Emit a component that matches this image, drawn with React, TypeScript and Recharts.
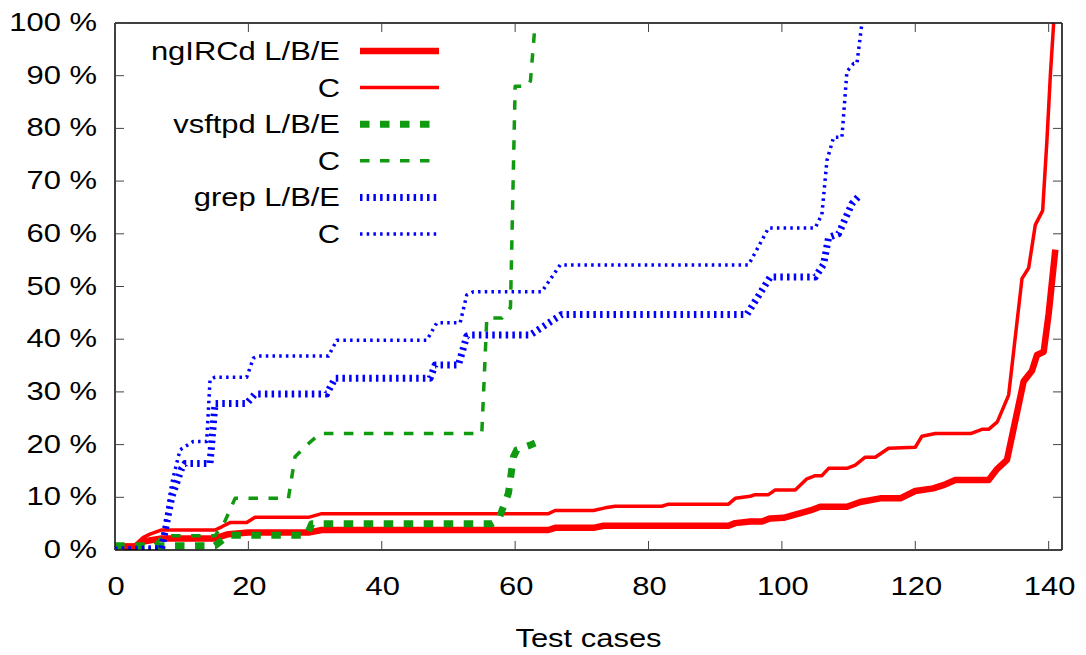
import { LineChart, Line, XAxis, YAxis, ReferenceLine } from 'recharts'

// test case count (x) vs. cumulative percentage (y)
const X_TICKS = [0, 20, 40, 60, 80, 100, 120, 140]
const Y_TICKS = [0, 10, 20, 30, 40, 50, 60, 70, 80, 90, 100]

const ngircdLbe: [number, number][] = [
  [0, 0.6], [3, 0.6], [4.25, 1.6], [7, 2.2], [15, 2.2], [17, 3.0], [20, 3.3], [29, 3.3],
  [31, 3.8], [65, 3.8], [66, 4.2], [71.75, 4.2], [73.25, 4.6], [92, 4.6], [93, 5.1],
  [95.25, 5.4], [97, 5.4], [98.25, 6.0], [100.25, 6.1], [102.25, 6.8], [104.25, 7.5],
  [105.75, 8.2], [109.75, 8.2], [111.75, 9.1], [114.75, 9.8], [117.75, 9.8], [120, 11.2],
  [122.7, 11.7], [124.2, 12.3], [126, 13.3], [131, 13.3], [132.3, 15.4], [133.75, 17.1],
  [136.25, 32], [137.5, 34], [138.25, 37], [139.25, 37.6], [140, 44.8], [141, 57],
]

const ngircdC: [number, number][] = [
  [0, 0.95], [3, 0.95], [4.25, 2.4], [5.25, 3], [7, 3.8], [15, 3.8], [16, 4.4], [17.25, 5.2],
  [19.75, 5.2], [21, 6.2], [29, 6.2], [31, 6.9], [65, 6.9], [66, 7.5], [71.75, 7.5],
  [73.5, 8.0], [75, 8.3], [82, 8.3], [83, 8.7], [92, 8.7], [93, 9.8], [95.25, 10.2],
  [96, 10.5], [98, 10.5], [99, 11.4], [102, 11.4], [103.75, 13.5], [105, 14.1], [106, 14.1],
  [107, 15.5], [109.75, 15.5], [111, 16.1], [112.5, 17.6], [114, 17.6], [116, 19.3],
  [120, 19.5], [121, 21.6], [123, 22.1], [128.3, 22.1], [130, 22.9], [131, 22.9],
  [132.3, 24.3], [134, 29.4], [136, 51.5], [137, 53.5], [138, 61.7], [139.1, 64.4],
  [139.75, 77.9], [140.25, 90], [140.75, 100],
]

const vsftpdLbe: [number, number][] = [
  [0, 0.8], [15, 0.8], [17, 2.8], [28.75, 2.8], [29.5, 5], [56.5, 5], [57.5, 5.7],
  [59, 10.8], [59.75, 17.7], [60.25, 19], [62.25, 19.9], [63, 20.3],
]

const vsftpdC: [number, number][] = [
  [0, 0.9], [6, 1], [7.25, 2.7], [15, 2.7], [16.5, 5.5], [18, 9.8], [26, 9.8], [27, 17.7],
  [28.75, 19.9], [30.75, 22.1], [55, 22.1], [55.75, 44], [58, 44], [59.3, 46], [60, 88],
  [61.8, 88], [62.3, 89], [63, 100],
]

const grepLbe: [number, number][] = [
  [0, 0], [7, 0.3], [8.5, 10], [10, 15.5], [10.5, 16.4], [14.25, 16.4], [15, 27.8],
  [19.75, 27.8], [21, 29.6], [31.75, 29.6], [33, 32.6], [47.25, 32.6], [48, 35.1],
  [51.5, 35.1], [52.75, 40.6], [53.25, 40.8], [62.25, 40.8], [67, 44.7], [94.75, 44.7],
  [98.25, 51.8], [105, 51.8], [106.25, 54.2], [107, 59.3], [108.5, 60], [110.5, 65.7],
  [111.5, 67.1], [111.75, 67.5],
]

const grepC: [number, number][] = [
  [0, 0], [7, 0.3], [8.5, 12.6], [9.75, 19], [11.75, 20.6], [13.75, 20.6], [14.25, 32.3],
  [15, 32.8], [19.75, 32.8], [20.75, 36.4], [21.5, 36.8], [32, 36.8], [33.25, 39.8],
  [46.75, 39.8], [48.25, 43.1], [51.75, 43.1], [52.75, 48.4], [53.75, 49], [64, 49],
  [66.75, 54.1], [95, 54.1], [98, 61.1], [105, 61.1], [106, 63.7], [106.75, 73.9],
  [107.75, 78.3], [109, 78.3], [109.75, 90.8], [110.75, 92.3], [111.25, 92.3], [112, 100],
]

const RED = '#ff0000'
const GREEN = '#0f9a0f'
const BLUE = '#0000ff'

const SERIES = [
  { key: 'ngircdLbe', name: 'ngIRCd L/B/E', points: ngircdLbe, color: RED, width: 6.5, dash: undefined },
  { key: 'ngircdC', name: 'C', points: ngircdC, color: RED, width: 3.5, dash: undefined },
  { key: 'vsftpdLbe', name: 'vsftpd L/B/E', points: vsftpdLbe, color: GREEN, width: 7, dash: '9.5 10.5' },
  { key: 'vsftpdC', name: 'C', points: vsftpdC, color: GREEN, width: 3.5, dash: '9.5 10.5' },
  { key: 'grepLbe', name: 'grep L/B/E', points: grepLbe, color: BLUE, width: 7, dash: '2.5 4.2' },
  { key: 'grepC', name: 'C', points: grepC, color: BLUE, width: 3.5, dash: '2.5 4.2' },
]

const W = 1070
const H = 647
const MARGIN = { top: 15, right: 16, left: 0, bottom: 0 }
const Y_AXIS_W = 107
const X_AXIS_H = 105
const PLOT_TOP = MARGIN.top
const PLOT_BOTTOM = H - MARGIN.bottom - X_AXIS_H
const PLOT_LEFT = MARGIN.left + Y_AXIS_W
const PLOT_RIGHT = W - MARGIN.right
const TICK_LEN = 9
const FONT = '"Liberation Sans", Arial, Helvetica, sans-serif'

// gnuplot-ish text: slightly wide Helvetica
function Txt({ x, y, anchor, children }: { x: number; y: number; anchor: 'start' | 'middle' | 'end'; children: any }) {
  return (
    <text
      transform={`translate(${x},${y}) scale(1.19,1)`}
      textAnchor={anchor}
      fontFamily={FONT}
      fontSize={26}
      fill="#000"
    >
      {children}
    </text>
  )
}

function XTick(props: any) {
  const { x, payload } = props
  return (
    <g>
      <line x1={x} x2={x} y1={PLOT_BOTTOM} y2={PLOT_BOTTOM - TICK_LEN} stroke="#444" strokeWidth={1} />
      <line x1={x} x2={x} y1={PLOT_TOP} y2={PLOT_TOP + TICK_LEN} stroke="#444" strokeWidth={1} />
      <Txt x={x + 1} y={PLOT_BOTTOM + 45} anchor="middle">{payload.value}</Txt>
    </g>
  )
}

function YTick(props: any) {
  const { y, payload } = props
  return (
    <g>
      <line x1={PLOT_LEFT} x2={PLOT_LEFT + TICK_LEN} y1={y} y2={y} stroke="#444" strokeWidth={1} />
      <line x1={PLOT_RIGHT} x2={PLOT_RIGHT - TICK_LEN} y1={y} y2={y} stroke="#444" strokeWidth={1} />
      <Txt x={PLOT_LEFT - 18} y={y + 8} anchor="end">{`${payload.value} %`}</Txt>
    </g>
  )
}

function AxisTitle(props: any) {
  const vb = props.viewBox || { x: PLOT_LEFT, y: PLOT_BOTTOM, width: PLOT_RIGHT - PLOT_LEFT }
  return <Txt x={vb.x + vb.width / 2} y={PLOT_BOTTOM + 97} anchor="middle">Test cases</Txt>
}

function KeyBox() {
  const rowY = (i: number) => 43 + i * 36.6
  return (
    <svg
      width={460}
      height={260}
      style={{ position: 'absolute', left: 0, top: 0, pointerEvents: 'none' }}
    >
      {SERIES.map((s, i) => (
        <g key={s.key}>
          <Txt x={332} y={rowY(i) + 9} anchor="end">{s.name}</Txt>
          <line
            x1={352}
            x2={431}
            y1={rowY(i)}
            y2={rowY(i)}
            stroke={s.color}
            strokeWidth={s.width}
            strokeDasharray={s.dash}
          />
        </g>
      ))}
    </svg>
  )
}

export default function App() {
  return (
    <div style={{ position: 'relative', width: W, height: H }}>
      <LineChart width={W} height={H} margin={MARGIN}>
        <XAxis
          type="number"
          dataKey="x"
          domain={[0, 142]}
          ticks={X_TICKS}
          interval={0}
          height={X_AXIS_H}
          axisLine={false}
          tickLine={false}
          tick={<XTick />}
          allowDataOverflow
          label={<AxisTitle />}
        />
        <YAxis
          type="number"
          domain={[0, 100]}
          ticks={Y_TICKS}
          interval={0}
          width={Y_AXIS_W}
          axisLine={false}
          tickLine={false}
          tick={<YTick />}
          allowDataOverflow
        />
        {SERIES.map((s) => (
          <Line
            key={s.key}
            data={s.points.map(([x, v]) => ({ x, v }))}
            dataKey="v"
            type="linear"
            stroke={s.color}
            strokeWidth={s.width}
            strokeDasharray={s.dash}
            strokeLinejoin="round"
            dot={false}
            activeDot={false}
            isAnimationActive={false}
          />
        ))}
        <ReferenceLine x={0} stroke="#000" strokeWidth={1.5} />
        <ReferenceLine x={142} stroke="#000" strokeWidth={1.5} />
        <ReferenceLine y={0} stroke="#000" strokeWidth={1.5} />
        <ReferenceLine y={100} stroke="#000" strokeWidth={1.5} />
      </LineChart>
      <KeyBox />
    </div>
  )
}
